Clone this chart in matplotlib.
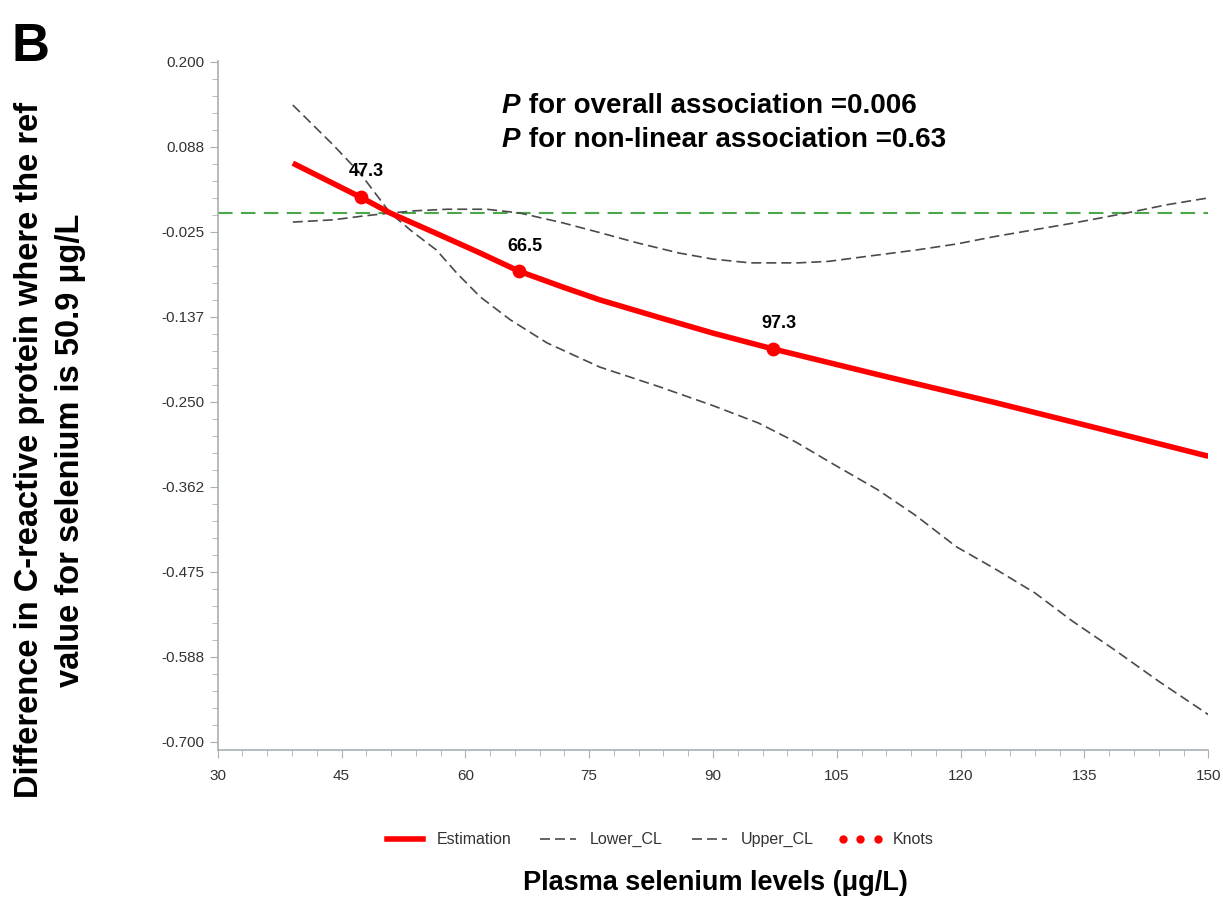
import matplotlib
matplotlib.use("Agg")
from matplotlib import pyplot as plt
from matplotlib.ticker import AutoMinorLocator
from matplotlib.lines import Line2D

# values
est_x = [39.1, 47.3, 50.9, 56.9, 61.8, 66.5, 71.8, 76.3, 83.7, 90.0, 97.3, 110.0, 124.2, 137.0, 150.0]
est_y = [0.066, 0.021, 0.000, -0.029, -0.053, -0.077, -0.098, -0.115, -0.139, -0.159, -0.180, -0.214, -0.251, -0.286, -0.322]

lower_x = [39.1, 44.0, 47.3, 50.9, 53.5, 56.5, 59.0, 61.8, 65.4, 69.9, 76.3, 83.5, 90.0, 95.5, 100.0, 104.5, 109.9, 114.5, 119.5, 124.0, 129.0, 133.5, 138.6, 144.0, 150.0]
lower_y = [0.143, 0.090, 0.052, 0.000, -0.024, -0.049, -0.080, -0.111, -0.141, -0.172, -0.204, -0.230, -0.255, -0.278, -0.303, -0.332, -0.366, -0.400, -0.442, -0.470, -0.503, -0.540, -0.578, -0.620, -0.664]

upper_x = [39.1, 44.0, 47.6, 50.9, 54.0, 57.8, 62.6, 66.6, 71.8, 76.3, 81.0, 85.9, 90.0, 94.5, 100.3, 104.0, 107.5, 114.6, 119.5, 124.2, 129.0, 133.8, 140.1, 145.0, 150.0]
upper_y = [-0.012, -0.009, -0.004, 0.000, 0.003, 0.005, 0.005, 0.000, -0.013, -0.026, -0.040, -0.053, -0.061, -0.066, -0.066, -0.064, -0.059, -0.049, -0.041, -0.031, -0.022, -0.013, 0.000, 0.011, 0.020]

knot_x = [47.3, 66.5, 97.3]
knot_y = [0.021, -0.077, -0.180]
knot_labels = ["47.3", "66.5", "97.3"]

ref_value = 0.0
yticks = [0.2, 0.0875, -0.025, -0.1375, -0.25, -0.3625, -0.475, -0.5875, -0.7]
ytick_labels = ["0.200", "0.088", "-0.025", "-0.137", "-0.250", "-0.362", "-0.475", "-0.588", "-0.700"]
xticks = [30, 45, 60, 75, 90, 105, 120, 135, 150]

plt.rcParams["font.family"] = ["Liberation Sans", "DejaVu Sans"]

fig = plt.figure(figsize=(12.23, 9.0), dpi=100)
ax = fig.add_axes([0.178, 0.167, 0.810, 0.765])

red = "#ff0000"
grey = "#4a4a4a"
axcol = "#a8b0b4"

ax.axhline(ref_value, color="#4aa84a", lw=1.5, dashes=(7, 4), zorder=1)
ax.plot(lower_x, lower_y, color=grey, lw=1.2, dashes=(6, 3), zorder=2)
ax.plot(upper_x, upper_y, color=grey, lw=1.2, dashes=(6, 3), zorder=2)
ax.plot(est_x, est_y, color=red, lw=4, zorder=3, solid_capstyle="butt")
ax.scatter(knot_x, knot_y, color=red, s=80, zorder=4)
for kx, ky, kl in zip(knot_x, knot_y, knot_labels):
    ax.annotate(kl, (kx, ky), xytext=(4, 12), textcoords="offset points",
                ha="center", va="bottom", fontsize=13, fontweight="bold")

ax.set_xlim(30, 150)
ax.set_ylim(-0.7105, 0.201)
ax.set_xticks(xticks)
ax.set_xticklabels([str(t) for t in xticks])
ax.set_yticks(yticks)
ax.set_yticklabels(ytick_labels)
ax.xaxis.set_minor_locator(AutoMinorLocator(5))
ax.yaxis.set_minor_locator(AutoMinorLocator(5))
ax.tick_params(which="both", direction="out", color=axcol, labelcolor="#333333", labelsize=11)
ax.tick_params(which="major", length=6)
ax.tick_params(which="minor", length=4)
ax.tick_params(axis="x", pad=8)
for s in ["top", "right"]:
    ax.spines[s].set_visible(False)
for s in ["left", "bottom"]:
    ax.spines[s].set_color(axcol)
    ax.spines[s].set_linewidth(1.2)

# p-value text
p1 = ax.text(0.287, 0.9245, "P", transform=ax.transAxes, fontsize=20,
             fontweight="bold", fontstyle="italic", va="baseline")
ax.annotate(" for overall association =0.006", xy=(1, 0), xycoords=p1,
            fontsize=20, fontweight="bold", va="bottom")
p2 = ax.text(0.287, 0.875, "P", transform=ax.transAxes, fontsize=20,
             fontweight="bold", fontstyle="italic", va="baseline")
ax.annotate(" for non-linear association =0.63", xy=(1, 0), xycoords=p2,
            fontsize=20, fontweight="bold", va="bottom")

fig.text(0.009, 0.948, "B", fontsize=38, fontweight="bold", va="center")
fig.text(0.041, 0.50, "Difference in C-reactive protein where the ref\nvalue for selenium is 50.9 \u03bcg/L",
         rotation=90, ha="center", va="center", fontsize=23.5, fontweight="bold",
         multialignment="center", linespacing=1.4)
fig.text(0.585, 0.019, "Plasma selenium levels (\u03bcg/L)", ha="center", va="center",
         fontsize=19.5, fontweight="bold")

handles = [
    Line2D([], [], color=red, lw=4),
    Line2D([], [], color=grey, lw=1.2, dashes=(6, 3)),
    Line2D([], [], color=grey, lw=1.2, dashes=(6, 3)),
    Line2D([], [], color=red, marker="o", ls="none", markersize=5),
]
fig.legend(handles, ["Estimation", "Lower_CL", "Upper_CL", "Knots"], loc="center",
           bbox_to_anchor=(0.538, 0.067), ncol=4, frameon=False, fontsize=11.5,
           numpoints=3, handlelength=2.8, handletextpad=0.6, columnspacing=1.5,
           labelcolor="#333333")

fig.savefig("out.png", dpi=100)
